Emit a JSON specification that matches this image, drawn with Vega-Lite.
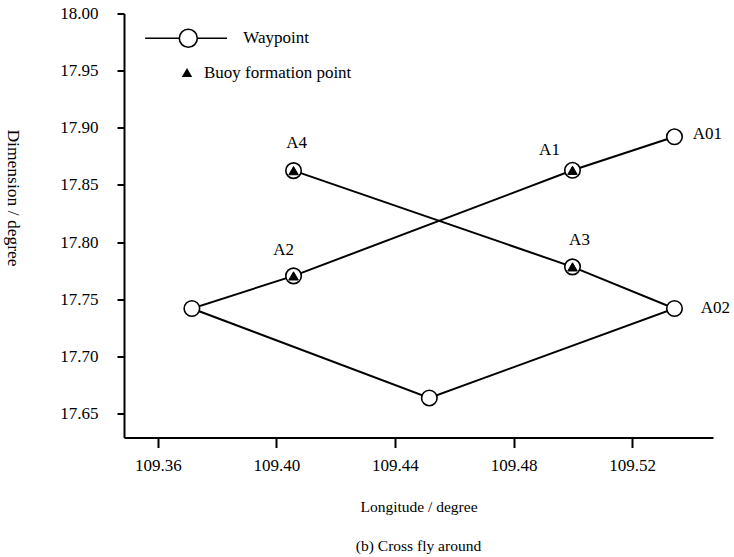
{
  "$schema": "https://vega.github.io/schema/vega-lite/v6.json",
  "width": 589,
  "height": 424,
  "autosize": "none",
  "padding": {"left": 124, "top": 13.5, "right": 21, "bottom": 119.5},
  "background": "white",
  "config": {
    "font": "Liberation Serif",
    "view": {"stroke": null},
    "axis": {
      "grid": false,
      "ticks": true,
      "domainColor": "black",
      "domainWidth": 2,
      "tickColor": "black",
      "tickWidth": 2,
      "labelFont": "Liberation Serif",
      "labelFontSize": 17,
      "labelColor": "black",
      "titleFont": "Liberation Serif",
      "titleColor": "black",
      "titleFontWeight": "normal"
    },
    "legend": {
      "labelFont": "Liberation Serif",
      "labelFontSize": 17,
      "labelColor": "black"
    }
  },
  "title": {
    "text": "(b) Cross fly around",
    "orient": "bottom",
    "anchor": "middle",
    "frame": "group",
    "font": "Liberation Serif",
    "fontSize": 15.5,
    "fontWeight": "normal",
    "color": "black",
    "offset": 24
  },
  "datasets": {
    "pts": [
      {"lon": 109.4058, "lat": 17.8625, "type": "Waypoint", "seq": 1, "label": "A4"},
      {"lon": 109.4999, "lat": 17.7783, "type": "Waypoint", "seq": 2, "label": "A3"},
      {"lon": 109.5343, "lat": 17.7419, "type": "Waypoint", "seq": 3, "label": "A02"},
      {"lon": 109.4516, "lat": 17.6636, "type": "Waypoint", "seq": 4, "label": ""},
      {"lon": 109.3715, "lat": 17.7419, "type": "Waypoint", "seq": 5, "label": ""},
      {"lon": 109.4058, "lat": 17.7704, "type": "Waypoint", "seq": 6, "label": "A2"},
      {"lon": 109.4999, "lat": 17.8628, "type": "Waypoint", "seq": 7, "label": "A1"},
      {"lon": 109.5343, "lat": 17.8921, "type": "Waypoint", "seq": 8, "label": "A01"},
      {"lon": 109.4999, "lat": 17.8628, "type": "Buoy formation point", "seq": 9, "label": ""},
      {"lon": 109.4058, "lat": 17.7704, "type": "Buoy formation point", "seq": 10, "label": ""},
      {"lon": 109.4999, "lat": 17.7783, "type": "Buoy formation point", "seq": 11, "label": ""},
      {"lon": 109.4058, "lat": 17.8625, "type": "Buoy formation point", "seq": 12, "label": ""}
    ]
  },
  "data": {"name": "pts"},
  "encoding": {
    "x": {
      "field": "lon",
      "type": "quantitative",
      "scale": {"domain": [109.3486, 109.5473], "nice": false, "zero": false},
      "axis": {
        "values": [109.36, 109.40, 109.44, 109.48, 109.52],
        "format": ".2f",
        "grid": false,
        "ticks": true,
        "tickColor": "black",
        "tickWidth": 2,
        "tickSize": 10,
        "domainColor": "black",
        "domainWidth": 2,
        "labelFont": "Liberation Serif",
        "labelFontSize": 17,
        "labelColor": "black",
        "labelPadding": 10,
        "title": "Longitude / degree",
        "titleFont": "Liberation Serif",
        "titleFontSize": 15.5,
        "titleFontWeight": "normal",
        "titleColor": "black",
        "titleX": 294.5,
        "titleY": 69.3,
        "titleAlign": "center",
        "titleBaseline": "middle"
      }
    },
    "y": {
      "field": "lat",
      "type": "quantitative",
      "scale": {"domain": [17.629, 18.0], "nice": false, "zero": false},
      "axis": {
        "values": [17.65, 17.70, 17.75, 17.80, 17.85, 17.90, 17.95, 18.00],
        "format": ".2f",
        "grid": false,
        "ticks": true,
        "tickColor": "black",
        "tickWidth": 2,
        "tickSize": 7,
        "domainColor": "black",
        "domainWidth": 2,
        "labelFont": "Liberation Serif",
        "labelFontSize": 17,
        "labelColor": "black",
        "labelPadding": 19,
        "title": "Dimension / degree",
        "titleFont": "Liberation Serif",
        "titleFontSize": 17.5,
        "titleFontWeight": "normal",
        "titleColor": "black",
        "titleAngle": 90,
        "titleX": -111.5,
        "titleY": 184,
        "titleAlign": "center",
        "titleBaseline": "middle"
      }
    }
  },
  "layer": [
    {
      "transform": [{"filter": "datum.type === 'Waypoint'"}],
      "mark": {"type": "line", "color": "black", "strokeWidth": 2},
      "encoding": {"order": {"field": "seq", "type": "quantitative"}}
    },
    {
      "transform": [{"filter": "datum.type === 'Waypoint'"}],
      "mark": {"type": "point", "shape": "circle", "size": 240, "filled": true, "stroke": "black", "strokeWidth": 1.6, "opacity": 1},
      "encoding": {
        "fill": {
          "field": "type",
          "type": "nominal",
          "scale": {"domain": ["Waypoint", "Buoy formation point"], "range": ["white", "black"]},
          "legend": {
            "title": null,
            "values": ["Waypoint"],
            "orient": "none",
            "legendX": 54.3,
            "legendY": 14.8,
            "padding": 0,
            "labelOffset": 45,
            "labelFont": "Liberation Serif",
            "labelFontSize": 17,
            "labelColor": "black",
            "labelLimit": 400,
            "symbolType": "M-4.8,0H-1M1,0H4.3M-1,0A1,1,0,1,1,1,0A1,1,0,1,1,-1,0",
            "symbolSize": 324,
            "symbolStrokeColor": "black",
            "symbolStrokeWidth": 1.6,
            "symbolOpacity": 1
          }
        }
      }
    },
    {
      "transform": [{"filter": "datum.type === 'Buoy formation point'"}],
      "mark": {"type": "point", "size": 90, "filled": true, "fill": "black", "stroke": "black", "strokeWidth": 1, "opacity": 1},
      "encoding": {
        "shape": {
          "field": "type",
          "type": "nominal",
          "scale": {"domain": ["Buoy formation point", "Waypoint"], "range": ["triangle-up", "circle"]},
          "legend": {
            "title": null,
            "values": ["Buoy formation point"],
            "orient": "none",
            "legendX": 54.5,
            "legendY": 50.5,
            "padding": 0,
            "labelOffset": 8.5,
            "labelFont": "Liberation Serif",
            "labelFontSize": 17,
            "labelColor": "black",
            "labelLimit": 400,
            "symbolSize": 110,
            "symbolFillColor": "black",
            "symbolStrokeColor": "black",
            "symbolStrokeWidth": 1,
            "symbolOpacity": 1
          }
        }
      }
    },
    {
      "transform": [{"filter": "datum.label === 'A4'"}],
      "mark": {"type": "text", "dx": 3, "dy": -28, "fontSize": 17, "font": "Liberation Serif", "color": "black"},
      "encoding": {"text": {"field": "label"}}
    },
    {
      "transform": [{"filter": "datum.label === 'A2'"}],
      "mark": {"type": "text", "dx": -10, "dy": -26, "fontSize": 17, "font": "Liberation Serif", "color": "black"},
      "encoding": {"text": {"field": "label"}}
    },
    {
      "transform": [{"filter": "datum.label === 'A1'"}],
      "mark": {"type": "text", "dx": -23, "dy": -20, "fontSize": 17, "font": "Liberation Serif", "color": "black"},
      "encoding": {"text": {"field": "label"}}
    },
    {
      "transform": [{"filter": "datum.label === 'A3'"}],
      "mark": {"type": "text", "dx": 7, "dy": -27, "fontSize": 17, "font": "Liberation Serif", "color": "black"},
      "encoding": {"text": {"field": "label"}}
    },
    {
      "transform": [{"filter": "datum.label === 'A01'"}],
      "mark": {"type": "text", "dx": 33, "dy": -3, "fontSize": 17, "font": "Liberation Serif", "color": "black"},
      "encoding": {"text": {"field": "label"}}
    },
    {
      "transform": [{"filter": "datum.label === 'A02'"}],
      "mark": {"type": "text", "dx": 41, "dy": 0, "fontSize": 17, "font": "Liberation Serif", "color": "black"},
      "encoding": {"text": {"field": "label"}}
    }
  ]
}
